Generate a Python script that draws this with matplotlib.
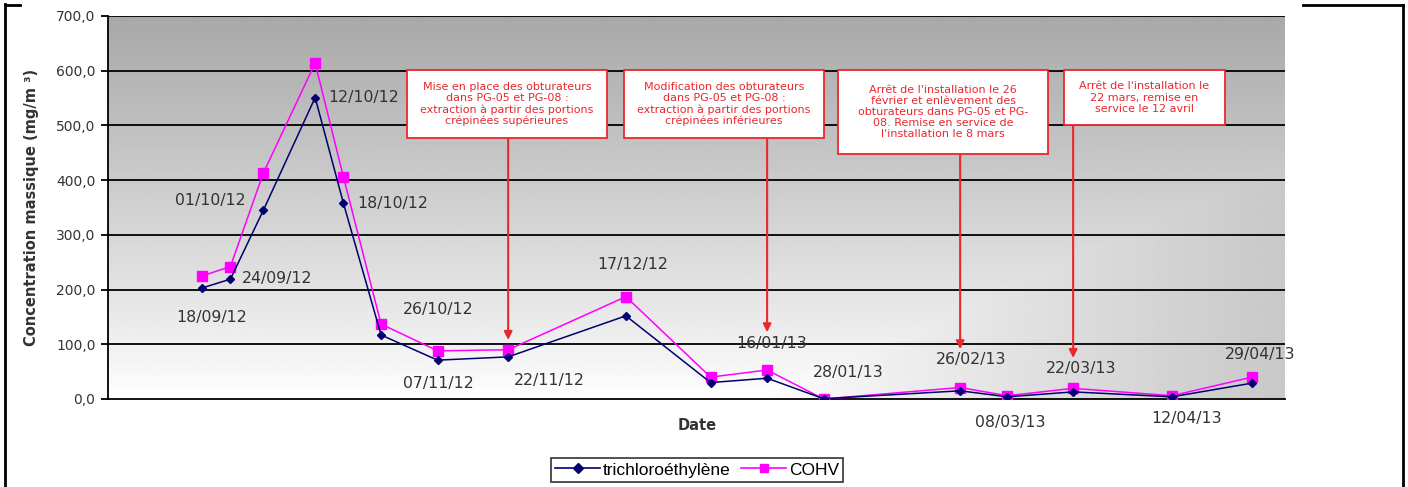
# Concentration massique des COHV et du trichloroéthylène, sept. 2012 - avril 2013
import numpy as np
import pandas as pd
import matplotlib
matplotlib.use("Agg")
import matplotlib.pyplot as plt
import matplotlib.dates as mdates
from matplotlib.patches import Rectangle
from matplotlib.lines import Line2D

# Données
dates = pd.to_datetime([
    "2012-09-18", "2012-09-24", "2012-10-01", "2012-10-12", "2012-10-18",
    "2012-10-26", "2012-11-07", "2012-11-22", "2012-12-17", "2013-01-04",
    "2013-01-16", "2013-01-28", "2013-02-26", "2013-03-08", "2013-03-22",
    "2013-04-12", "2013-04-29",
])
tce = [203, 219, 345, 551, 358, 117, 71, 77, 152, 30, 38, 0.5, 15, 4, 13, 4, 29]
cohv = [225, 242, 413, 614, 406, 137, 88, 90, 187, 40, 53, 0, 21, 6, 19.5, 6, 40]

point_labels = [
    "18/09/12", "24/09/12", "01/10/12", "12/10/12", "18/10/12", "26/10/12",
    "07/11/12", "22/11/12", "17/12/12", None, "16/01/13", "28/01/13",
    "26/02/13", "08/03/13", "22/03/13", "12/04/13", "29/04/13",
]
# décalage des étiquettes (pixels) par rapport au point
label_offsets = [
    (9, -30), (47, 1), (-53, 10), (48, 0), (49, 0), (57, 25),
    (1, -23), (41, -24), (7, 51), (0, 0), (5, 35), (25, 26),
    (11, 31), (3, -26), (8, 23), (15, -22), (8, 29),
]

event_texts = [
    "Mise en place des obturateurs\ndans PG-05 et PG-08 :\nextraction à partir des portions\ncrépinées supérieures",
    "Modification des obturateurs\ndans PG-05 et PG-08 :\nextraction à partir des portions\ncrépinées inférieures",
    "Arrêt de l'installation le 26\nfévrier et enlèvement des\nobturateurs dans PG-05 et PG-\n08. Remise en service de\nl'installation le 8 mars",
    "Arrêt de l'installation le\n22 mars, remise en\nservice le 12 avril",
]
event_dates = pd.to_datetime(["2012-11-22", "2013-01-16", "2013-02-26", "2013-03-22"])
event_tips = [108, 122, 91, 75]
# boîtes en pixels : gauche, haut, droite, bas
event_boxes = [(407, 70, 607, 138), (624, 70, 824, 138), (838, 70, 1048, 154), (1064, 70, 1225, 125)]

W, H = 1408, 487
RED = "#e8282d"


def fx(x):
    return x / W


def fy(y):
    return 1 - y / H


fig = plt.figure(figsize=(W / 100, H / 100), dpi=100)
ax = fig.add_axes([fx(108), fy(399), (1285 - 108) / W, (399 - 16) / H])

# fond dégradé gris -> blanc
gx, gy = np.meshgrid(np.linspace(0, 1, 300), np.linspace(0, 1, 200))
d = np.maximum(gy, np.clip((gx - 0.55) / 0.45, 0, 1) * 0.6)
shade = 1 - 0.34 * d ** 0.9
ax.imshow(shade, cmap="gray", vmin=0, vmax=1, origin="lower", extent=[0, 1, 0, 1],
          transform=ax.transAxes, aspect="auto", zorder=0, interpolation="bilinear")

ax.set_xlim(pd.Timestamp("2012-08-29"), pd.Timestamp("2013-05-06"))
ax.set_ylim(0, 700)
ax.set_yticks(np.arange(0, 701, 100))
ax.set_yticklabels([f"{v:.1f}".replace(".", ",") for v in np.arange(0, 701, 100)],
                   fontsize=10, color="#333333")
ax.set_xticks([])
for y in np.arange(100, 701, 100):
    ax.axhline(y, color="black", lw=1.3, zorder=1)
for s in ["top", "right"]:
    ax.spines[s].set_visible(False)
ax.spines["left"].set_linewidth(1.3)
ax.spines["bottom"].set_linewidth(1.3)
ax.tick_params(axis="y", direction="out", length=5, width=1.3, pad=4)

ax.plot(dates, cohv, color="#ff00ff", lw=1.1, marker="s", ms=6.5, mec="#ff00ff", zorder=3)
ax.plot(dates, tce, color="#000070", lw=1.1, marker="D", ms=4.5, mec="#000070", zorder=4)

for d_, v, lab, off in zip(dates, tce, point_labels, label_offsets):
    if lab is None:
        continue
    ax.annotate(lab, (d_, v), xytext=off, textcoords="offset pixels",
                ha="center", va="center", fontsize=11.3, color="#333333", zorder=5)

ax.set_ylabel("Concentration massique (mg/m ³)", fontsize=10.5, fontweight="bold",
              color="#333333", labelpad=12)
fig.text(fx(697), fy(425), "Date", ha="center", va="center", fontsize=10.5,
         fontweight="bold", color="#333333")

# encadrés des événements et flèches
for txt, ed, tip, (x0, y0, x1, y1) in zip(event_texts, event_dates, event_tips, event_boxes):
    fig.patches.append(Rectangle((fx(x0), fy(y1)), fx(x1) - fx(x0), fy(y0) - fy(y1),
                                 transform=fig.transFigure, facecolor="white",
                                 edgecolor=RED, lw=1.3, zorder=6))
    fig.text(fx((x0 + x1) / 2), fy((y0 + y1) / 2), txt, ha="center", va="center",
             fontsize=8, color=RED, linespacing=1.15, zorder=7)
    xb = ax.transData.transform((mdates.date2num(ed), 0))[0]
    ax.annotate("", xy=(ed, tip), xytext=(xb / W, fy(y1)), textcoords="figure fraction",
                arrowprops=dict(arrowstyle="-|>", color=RED, lw=1.5, mutation_scale=12,
                                shrinkA=0, shrinkB=0), zorder=6)

# légende
handles = [
    Line2D([], [], color="#000070", marker="D", ms=5, lw=1.2),
    Line2D([], [], color="#ff00ff", marker="s", ms=6, lw=1.2),
]
leg = fig.legend(handles, ["trichloroéthylène", "COHV"], loc="center",
                 bbox_to_anchor=(fx(697), fy(470)), ncol=2, frameon=True, fancybox=False,
                 edgecolor="black", prop={"family": "Liberation Sans", "size": 12.5},
                 handlelength=2.6, handletextpad=0.15, columnspacing=0.6,
                 borderpad=0.25, markerscale=1)
leg.get_frame().set_linewidth(1.2)

# cadre du tableau
for xs, ys in [([5, 5], [4, H]), ([5, 20], [5, 5]), ([1303, 1403], [5, 5]), ([1403, 1403], [5, H])]:
    fig.add_artist(Line2D([fx(x) for x in xs], [fy(y) for y in ys], color="black", lw=2,
                          transform=fig.transFigure))

fig.savefig("out.png", dpi=100)
